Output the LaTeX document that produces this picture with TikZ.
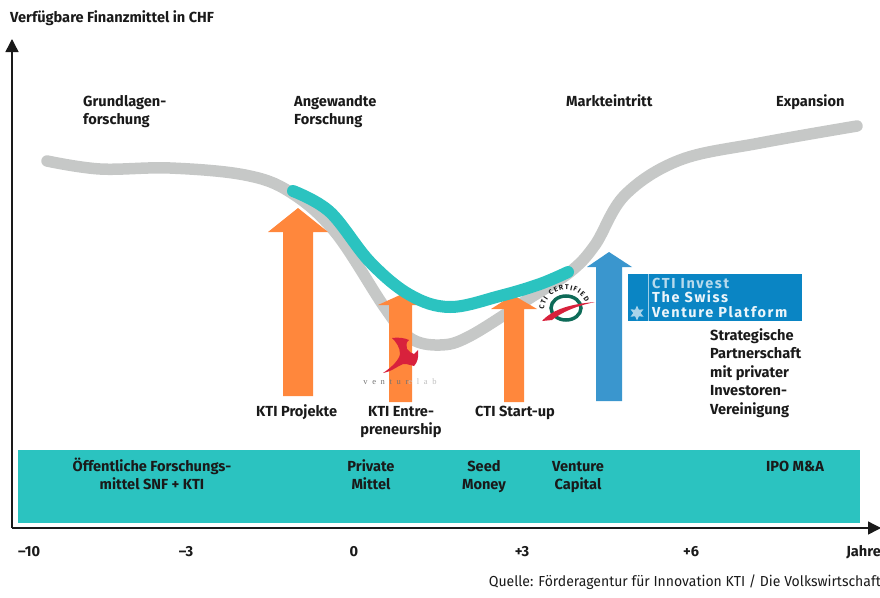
\documentclass[tikz,border=0pt]{standalone}
\usepackage{fontspec}
\setmainfont{Fira Sans}
\newfontfamily\srcfont{Fira Sans}[FakeStretch=0.966]
\newfontfamily\vpfont{Fira Sans}[LetterSpace=11]
\newfontfamily\vlfont{Liberation Serif}[LetterSpace=55]
\newfontfamily\ctifont{Fira Sans}
\newcommand\firstline{\rule{0pt}{15pt}}
\usetikzlibrary{arrows.meta,decorations.text,shapes.geometric}
\definecolor{tealband}{HTML}{2BC3C0}
\definecolor{curvegray}{HTML}{C6C8C7}
\definecolor{orangearrow}{HTML}{FF873C}
\definecolor{bluearrow}{HTML}{3A96CE}
\definecolor{platform}{HTML}{0A85C4}
\definecolor{logored}{HTML}{D8213C}
\definecolor{logogreen}{HTML}{0E6B58}
\definecolor{inktext}{HTML}{1A1A1A}
\tikzset{
  x=1pt,y=-1pt,
  lbl/.style={font=\bfseries\fontsize{14.6}{18.5}\selectfont,text=inktext,inner sep=0pt,align=left},
  lblc/.style={lbl,align=center},
  axisline/.style={draw=inktext,line width=1.4pt,-{Triangle[length=13pt,width=13pt]}},
  curvegrey/.style={draw=curvegray,line width=11.5pt,line cap=round,line join=round},
  curveteal/.style={draw=tealband,line width=12pt,line cap=round,line join=round},
  orangeup/.style={fill=orangearrow,draw=none},
  blueup/.style={fill=bluearrow,draw=none},
}
\begin{document}
\begin{tikzpicture}
\useasboundingbox (0,0) rectangle (880,597);
% band
\node[fill=tealband,minimum width=842pt,minimum height=73pt,inner sep=0pt,anchor=north west] (band) at (18,450) {};
% axes
\coordinate (origin) at (12,528);
\coordinate (ytop) at (12,39);
\coordinate (xend) at (881,528);
\draw[axisline] (origin) -- (ytop);
\draw[axisline] (origin) -- (xend);
% curves
\draw[curvegrey] plot[smooth,tension=.6] coordinates {(47,161) (100,169) (170,168) (245,175) (290,192) (335,232) (385,308) (410,338) (440,345) (470,336) (530,298) (570,272) (595,245) (625,195) (680,160) (760,143) (857,126)};
% arrows
\path[orangeup] (298,208) -- (328,232) -- (313,232) -- (313,396) -- (283,396) -- (283,232) -- (268,232) -- cycle;
\path[orangeup] (400,295) -- (423,305) -- (412,305) -- (412,402) -- (389,402) -- (389,305) -- (378,305) -- cycle;
\path[orangeup] (513,295) -- (537,309) -- (524,309) -- (524,402) -- (504,402) -- (504,309) -- (491,309) -- cycle;
\path[blueup] (609,252) -- (632,267) -- (622,267) -- (622,401) -- (596,401) -- (596,267) -- (587,267) -- cycle;
\draw[curveteal] plot[smooth,tension=.6] coordinates {(293,191) (330,212) (370,262) (410,295) (450,307) (500,296) (540,284) (568,272)};
% venturelab logo
\path[fill=logored] (392,338) .. controls (398,337) and (405,338) .. (409,340) .. controls (406,342) and (406,346) .. (407,349) -- (410,352) -- (414,354) -- (418,350) .. controls (419,358) and (417,363) .. (414,366) .. controls (409,365) and (404,362) .. (399,366) .. controls (394,369) and (389,372) .. (383,373) .. controls (392,367) and (399,360) .. (400,354) .. controls (400,347) and (396,342) .. (392,338) -- cycle;
\node[inner sep=0pt,text=black!55,font=\vlfont\fontsize{8.5}{10}\selectfont] (vlab) at (400,382) {ventur\textcolor{black!25}{elab}};
% cti certified logo
\draw[logogreen,line width=3.5pt] (566,308) ellipse (15pt and 12pt);
\path[fill=logored] (542,321) .. controls (553,309) and (571,304) .. (595,302) .. controls (576,306) and (562,312) .. (552,320) -- cycle;
\path[decorate,decoration={text along path,text align={fit to path},text={|\ctifont\fontsize{7}{8}\bfseries\color{inktext}|CTI CERTIFIED}}] (544,310) arc[start angle=175,end angle=27,radius=22pt];
% venture platform logo
\node[fill=platform,minimum width=174pt,minimum height=47pt,inner sep=0pt,anchor=north west] (vp) at (628,274) {};
\draw[white!60!platform,line width=1pt] (648,274) -- (648,321);
\node[fill=white!65!platform,star,star points=6,star point ratio=2,inner sep=0pt,minimum size=15pt] (logostar) at (637,313) {};
\node[anchor=north west,inner sep=0pt,align=left,text=white!92!platform,font=\vpfont\bfseries\fontsize{14.5}{14.5}\selectfont] (vptext) at (652,278) {\textcolor{white!70!platform}{CTI Invest}\\The Swiss\\Venture Platform};
% texts
\node[lbl,anchor=north west] (title) at (10,7) {\firstline Verfügbare Finanzmittel in CHF};
\node[lbl,anchor=north west] (gl) at (83,91) {\firstline Grundlagen-\\forschung};
\node[lbl,anchor=north west] (af) at (294,91) {\firstline Angewandte\\Forschung};
\node[lbl,anchor=north west] (me) at (566,91) {\firstline Markteintritt};
\node[lbl,anchor=north west] (ex) at (776,91) {\firstline Expansion};
\node[lbl,anchor=north west] (kp) at (256,401) {\firstline KTI Projekte};
\node[lblc,anchor=north] (ke) at (401,401) {\firstline KTI Entre-\\preneurship};
\node[lbl,anchor=north west] (cs) at (475,401) {\firstline CTI Start-up};
\node[lbl,anchor=north west] (sp) at (710,325) {\firstline Strategische\\Partnerschaft\\mit privater\\Investoren-\\Vereinigung};
\node[lblc,anchor=north] (f1) at (152,456) {\firstline Öffentliche Forschungs-\\mittel SNF + KTI};
\node[lblc,anchor=north] (f2) at (371,456) {\firstline Private\\Mittel};
\node[lblc,anchor=north] (f3) at (484,456) {\firstline Seed\\Money};
\node[lblc,anchor=north] (f4) at (578,456) {\firstline Venture\\Capital};
\node[lblc,anchor=north] (f5) at (795,456) {\firstline IPO M\&A};
\node[lbl,anchor=north west] (t1) at (18,541) {\firstline –10};
\node[lbl,anchor=north] (t2) at (186,541) {\firstline –3};
\node[lbl,anchor=north] (t3) at (354,541) {\firstline 0};
\node[lbl,anchor=north] (t4) at (522,541) {\firstline +3};
\node[lbl,anchor=north] (t5) at (691,541) {\firstline +6};
\node[lbl,anchor=north east] (t6) at (881,541) {\firstline Jahre};
\node[anchor=north east,inner sep=0pt,text=inktext,font=\srcfont\fontsize{14.5}{17}\selectfont] (src) at (881,575) {Quelle: Förderagentur für Innovation KTI / Die Volkswirtschaft};
\end{tikzpicture}
\end{document}
